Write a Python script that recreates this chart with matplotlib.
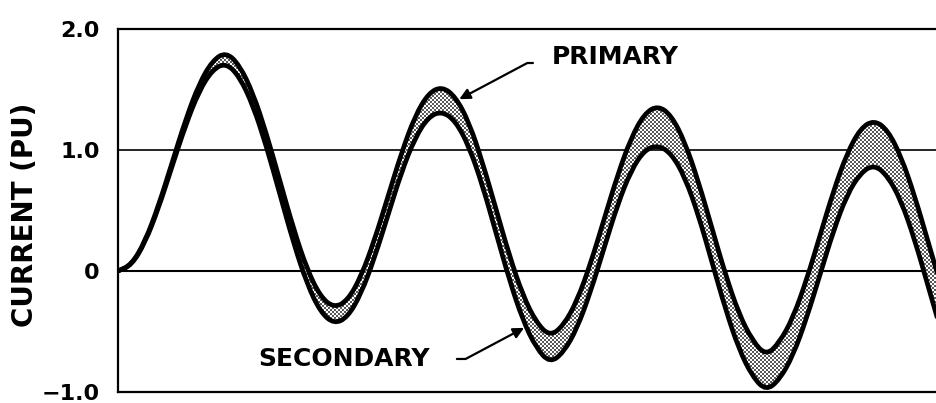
import numpy as np
import matplotlib
matplotlib.use("Agg")
import matplotlib.pyplot as plt
from matplotlib.path import Path
from matplotlib.patches import PathPatch

plt.rcParams["font.family"] = ["DejaVu Sans"]
plt.rcParams["font.weight"] = "bold"

# time in cycles, one sample every 1/16 cycle
t = np.arange(62) / 16

primary = [0.000, 0.052, 0.243, 0.539, 0.893, 1.248, 1.546, 1.739,
           1.810, 1.701, 1.470, 1.134, 0.742, 0.350, 0.015, -0.213,
           -0.304, -0.245, -0.047, 0.256, 0.616, 0.977, 1.281, 1.470,
           1.525, 1.440, 1.229, 0.899, 0.512, 0.125, -0.204, -0.428,
           -0.540, -0.450, -0.248, 0.060, 0.425, 0.791, 1.099, 1.302,
           1.368, 1.284, 1.063, 0.737, 0.353, -0.030, -0.356, -0.576,
           -0.700, -0.591, -0.386, -0.075, 0.293, 0.662, 0.973, 1.179,
           1.247, 1.167, 0.948, 0.625, 0.244, -0.137]

secondary = [0.000, 0.047, 0.233, 0.519, 0.863, 1.203, 1.486, 1.664,
             1.720, 1.606, 1.369, 1.028, 0.631, 0.233, -0.107, -0.340,
             -0.437, -0.383, -0.190, 0.108, 0.462, 0.818, 1.100, 1.275,
             1.320, 1.240, 1.030, 0.708, 0.316, -0.077, -0.411, -0.640,
             -0.760, -0.673, -0.476, -0.173, 0.187, 0.547, 0.830, 1.000,
             1.040, 0.970, 0.773, 0.461, 0.072, -0.316, -0.648, -0.873,
             -0.990, -0.898, -0.699, -0.393, -0.030, 0.333, 0.630, 0.810,
             0.880, 0.787, 0.583, 0.264, -0.122, -0.508]

yticks = [-1.0, 0.0, 1.0, 2.0]
ytick_labels = ["\u22121.0", "0", "1.0", "2.0"]

xmax = 3.787
ymin, ymax = -1.0, 2.0


def smooth(xs, ys):
    """Quadratic B-spline path using the samples as control points."""
    pts = np.column_stack([xs, ys])
    mids = (pts[:-1] + pts[1:]) / 2
    verts = [pts[0], mids[0]]
    codes = [Path.MOVETO, Path.LINETO]
    for i in range(1, len(pts) - 1):
        verts += [pts[i], mids[i]]
        codes += [Path.CURVE3, Path.CURVE3]
    verts.append(pts[-1])
    codes.append(Path.LINETO)
    return verts, codes


fig = plt.figure(figsize=(9.36, 4.03), dpi=100)
ax = fig.add_axes([118 / 936, 11 / 403, 818 / 936, 363 / 403])
ax.set_xlim(0, xmax)
ax.set_ylim(ymin, ymax)

# reference lines
ax.axhline(0, color="black", lw=1.5, zorder=0.5)
ax.axhline(1, color="black", lw=1.2, zorder=0.5)

vp, cp = smooth(t, primary)
vs, cs = smooth(t[::-1], secondary[::-1])

# stippled band between the two currents
cs = [Path.LINETO] + cs[1:]
band_path = Path(vp + vs + [vp[0]], cp + cs + [Path.CLOSEPOLY])
band = PathPatch(band_path, facecolor="none", edgecolor="none")
ax.add_patch(band)

h, w = 363, 818
yy, xx = np.mgrid[0:h, 0:w]
dots = ((xx % 4 < 2) & (yy % 4 < 2)) | (((xx + 2) % 4 < 2) & ((yy + 2) % 4 < 2))
tex = np.where(dots, 0.35, 1.0)
im = ax.imshow(tex, cmap="gray", vmin=0, vmax=1,
               extent=(0, xmax, ymin, ymax), aspect="auto",
               interpolation="nearest", zorder=1)
im.set_clip_path(band)

for vals in (primary, secondary):
    v, c = smooth(t, vals)
    ax.add_patch(PathPatch(Path(v, c), fill=False, edgecolor="black",
                           lw=3.4, capstyle="round", joinstyle="round",
                           zorder=2))

ax.set_xlim(0, xmax)
ax.set_ylim(ymin, ymax)
ax.set_xticks([])
ax.set_yticks(yticks)
ax.set_yticklabels(ytick_labels)
ax.tick_params(axis="y", length=0, pad=13, labelsize=16)

for side in ("left", "top", "bottom"):
    ax.spines[side].set_linewidth(1.6)
ax.spines["right"].set_visible(False)

fig.text(25 / 936, 1 - 215 / 403, "CURRENT (PU)", rotation=90,
         ha="center", va="center", fontsize=20, fontweight="bold")

# labels with leader arrows
ax.text(2.009, 1.77, "PRIMARY", ha="left", va="center", fontsize=18,
        fontweight="bold")
ax.annotate("", xy=(1.58, 1.42), xytext=(1.921, 1.719),
            arrowprops=dict(arrowstyle="-|>", color="black", lw=1.6,
                            mutation_scale=16, shrinkA=0, shrinkB=0,
                            connectionstyle="angle,angleA=0,angleB=28,rad=0"))
ax.text(0.648, -0.727, "SECONDARY", ha="left", va="center", fontsize=18,
        fontweight="bold")
ax.annotate("", xy=(1.88, -0.47), xytext=(1.569, -0.727),
            arrowprops=dict(arrowstyle="-|>", color="black", lw=1.6,
                            mutation_scale=16, shrinkA=0, shrinkB=0,
                            connectionstyle="angle,angleA=0,angleB=28,rad=0"))

fig.savefig("out.png", dpi=100)
